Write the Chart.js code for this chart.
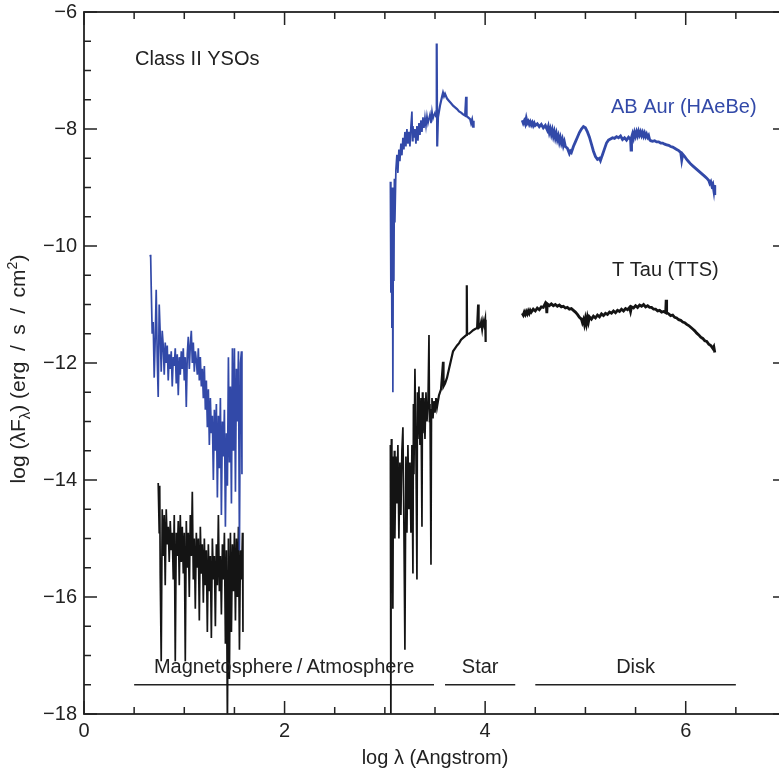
<!DOCTYPE html>
<html><head><meta charset="utf-8">
<script src="https://cdn.jsdelivr.net/npm/chart.js@4.4.0/dist/chart.umd.min.js"></script>
<style>html,body{margin:0;padding:0;background:#fff;overflow:hidden}
#wrap{width:779px;height:773px;overflow:hidden;position:relative}
canvas{display:block}</style></head>
<body><div id="wrap"><canvas id="c" width="790" height="773"></canvas></div>
<script>
// ---- data: log lambda (Angstrom) vs log(lambda F_lambda) ----
const abAurUV = [[0.66,-10.15],[0.665,-10.2],[0.67,-10.68],[0.68,-11.5],[0.69,-11.3],[0.70,-12.25],[0.71,-11.6],[0.72,-10.75],[0.73,-11.9],[0.74,-12.58],[0.75,-11.0],[0.76,-11.5],[0.77,-12.15],[0.78,-11.45],[0.79,-11.7],[0.80,-12.2],[0.81,-11.65],[0.82,-12.0],[0.83,-11.7],[0.84,-12.3],[0.85,-11.85],[0.86,-12.1],[0.87,-11.8],[0.88,-12.4],[0.89,-11.9],[0.90,-12.05],[0.91,-11.75],[0.92,-12.35],[0.93,-11.85],[0.94,-12.55],[0.95,-11.9],[0.96,-12.2],[0.97,-11.8],[0.98,-12.1],[0.99,-11.75],[1.00,-12.3],[1.01,-11.9],[1.02,-12.75],[1.03,-11.85],[1.04,-11.55],[1.05,-12.1],[1.06,-11.7],[1.07,-11.45],[1.08,-12.0],[1.09,-11.65],[1.10,-12.15],[1.11,-11.8],[1.12,-11.95],[1.13,-12.2],[1.14,-11.75],[1.15,-12.3],[1.16,-11.9],[1.17,-12.4],[1.18,-12.1],[1.19,-12.6],[1.20,-12.05],[1.21,-12.8],[1.22,-12.3],[1.23,-13.1],[1.24,-12.45],[1.25,-13.4],[1.26,-12.6],[1.27,-13.2],[1.28,-12.9],[1.29,-14.0],[1.30,-12.8],[1.31,-13.5],[1.32,-12.7],[1.33,-14.3],[1.34,-12.9],[1.35,-13.8],[1.36,-12.6],[1.37,-14.6],[1.38,-13.0],[1.39,-13.6],[1.40,-12.8],[1.41,-14.8],[1.42,-13.2],[1.43,-14.1],[1.44,-11.9],[1.45,-13.7],[1.46,-12.4],[1.47,-14.4],[1.48,-11.75],[1.49,-13.5],[1.50,-11.75],[1.51,-14.2],[1.52,-12.1],[1.53,-13.0],[1.54,-11.8],[1.55,-15.2],[1.56,-12.0],[1.57,-11.8],[1.575,-13.9]];
const abAurOpt = [[3.055,-8.9],[3.06,-10.8],[3.065,-9.1],[3.07,-11.4],[3.075,-9.0],[3.08,-12.5],[3.085,-9.3],[3.09,-10.6],[3.095,-8.85],[3.10,-9.6],[3.11,-8.7],[3.12,-8.44],[3.13,-8.75],[3.14,-8.35],[3.15,-8.55],[3.16,-8.25],[3.17,-8.45],[3.18,-8.15],[3.19,-8.35],[3.20,-8.05],[3.21,-8.3],[3.22,-8.0],[3.23,-8.25],[3.24,-8.05],[3.25,-8.3],[3.26,-7.95],[3.27,-7.7],[3.275,-8.2],[3.28,-7.95],[3.29,-8.15],[3.30,-8.0],[3.31,-8.25],[3.32,-7.95],[3.33,-8.2],[3.34,-7.9],[3.35,-8.1],[3.36,-7.85],[3.37,-8.05],[3.38,-7.8],[3.39,-7.98],[3.40,-7.8],[3.41,-7.95],[3.42,-7.78],[3.43,-7.9],[3.44,-7.82],[3.45,-7.75],[3.46,-7.9],[3.47,-7.7],[3.48,-7.82],[3.49,-7.76],[3.50,-7.72],[3.51,-7.8],[3.517,-6.54],[3.522,-8.3],[3.53,-7.8],[3.55,-7.6],[3.57,-7.45],[3.58,-7.38],[3.59,-7.44],[3.60,-7.4],[3.62,-7.48],[3.64,-7.52],[3.66,-7.56],[3.68,-7.6],[3.70,-7.63],[3.72,-7.66],[3.74,-7.7],[3.76,-7.72],[3.78,-7.75],[3.80,-7.77],[3.81,-7.45],[3.815,-7.78],[3.83,-7.8],[3.85,-7.83],[3.86,-7.9],[3.87,-7.84],[3.88,-7.96],[3.885,-7.86]];
const abAurIR = [[4.37,-7.85],[4.38,-7.9],[4.39,-7.86],[4.40,-7.91],[4.41,-7.82],[4.42,-7.9],[4.43,-7.87],[4.44,-7.92],[4.45,-7.88],[4.46,-7.93],[4.47,-7.89],[4.48,-7.94],[4.49,-7.9],[4.50,-7.94],[4.52,-7.91],[4.54,-7.96],[4.56,-7.92],[4.58,-7.98],[4.60,-7.94],[4.62,-8.02],[4.63,-7.96],[4.64,-8.06],[4.65,-8.0],[4.66,-8.09],[4.67,-8.02],[4.68,-8.12],[4.69,-8.05],[4.70,-8.15],[4.71,-8.08],[4.72,-8.18],[4.73,-8.12],[4.74,-8.22],[4.75,-8.15],[4.76,-8.24],[4.77,-8.18],[4.78,-8.28],[4.79,-8.22],[4.80,-8.3],[4.82,-8.33],[4.84,-8.42],[4.85,-8.38],[4.86,-8.4],[4.88,-8.3],[4.90,-8.22],[4.92,-8.14],[4.94,-8.06],[4.96,-8.0],[4.98,-7.96],[5.00,-7.98],[5.02,-8.05],[5.04,-8.14],[5.06,-8.26],[5.08,-8.38],[5.10,-8.47],[5.12,-8.52],[5.14,-8.5],[5.15,-8.54],[5.16,-8.49],[5.17,-8.44],[5.19,-8.34],[5.21,-8.24],[5.23,-8.19],[5.25,-8.17],[5.27,-8.15],[5.29,-8.16],[5.31,-8.13],[5.33,-8.15],[5.35,-8.12],[5.37,-8.18],[5.39,-8.15],[5.41,-8.19],[5.43,-8.14],[5.45,-8.18],[5.455,-8.36],[5.46,-8.14],[5.47,-8.08],[5.48,-8.15],[5.49,-8.06],[5.50,-8.12],[5.51,-8.05],[5.52,-8.11],[5.53,-8.04],[5.54,-8.1],[5.55,-8.05],[5.56,-8.11],[5.57,-8.06],[5.58,-8.12],[5.59,-8.07],[5.60,-8.13],[5.61,-8.09],[5.62,-8.14],[5.63,-8.11],[5.64,-8.18],[5.65,-8.2],[5.67,-8.21],[5.69,-8.2],[5.71,-8.22],[5.73,-8.22],[5.75,-8.24],[5.77,-8.24],[5.79,-8.26],[5.81,-8.27],[5.83,-8.28],[5.85,-8.3],[5.87,-8.31],[5.89,-8.33],[5.91,-8.35],[5.93,-8.37],[5.95,-8.4],[5.96,-8.53],[5.97,-8.43],[5.99,-8.47],[6.01,-8.52],[6.03,-8.56],[6.05,-8.6],[6.07,-8.63],[6.09,-8.66],[6.11,-8.69],[6.13,-8.72],[6.15,-8.75],[6.17,-8.78],[6.19,-8.81],[6.21,-8.84],[6.23,-8.88],[6.24,-8.93],[6.25,-8.9],[6.26,-8.97],[6.27,-8.94],[6.28,-9.05],[6.285,-8.96],[6.29,-9.13]];

const tTauUV = [[0.74,-14.05],[0.75,-14.9],[0.755,-14.1],[0.76,-15.6],[0.77,-17.1],[0.78,-14.5],[0.79,-15.3],[0.80,-14.6],[0.81,-15.8],[0.82,-14.5],[0.83,-15.1],[0.84,-14.8],[0.85,-15.4],[0.86,-14.7],[0.87,-15.2],[0.88,-14.9],[0.89,-15.7],[0.90,-14.6],[0.91,-17.1],[0.92,-14.9],[0.93,-15.3],[0.94,-14.7],[0.95,-15.8],[0.96,-14.6],[0.97,-15.4],[0.98,-14.8],[0.99,-15.6],[1.00,-14.9],[1.01,-17.1],[1.02,-14.7],[1.03,-15.5],[1.04,-14.9],[1.05,-16.0],[1.06,-14.6],[1.07,-15.3],[1.08,-14.2],[1.09,-15.7],[1.10,-15.0],[1.11,-16.2],[1.12,-14.9],[1.13,-15.5],[1.14,-15.0],[1.15,-16.4],[1.16,-14.8],[1.17,-15.6],[1.18,-15.1],[1.19,-16.1],[1.20,-15.0],[1.21,-15.8],[1.22,-15.2],[1.23,-16.6],[1.24,-15.1],[1.25,-15.9],[1.26,-15.3],[1.27,-16.7],[1.28,-15.0],[1.29,-15.7],[1.30,-15.3],[1.31,-16.5],[1.32,-15.1],[1.33,-15.8],[1.34,-14.6],[1.35,-15.9],[1.36,-15.3],[1.37,-16.3],[1.38,-15.1],[1.39,-15.7],[1.40,-14.9],[1.41,-16.8],[1.42,-15.2],[1.43,-18.2],[1.44,-15.0],[1.45,-17.4],[1.46,-14.9],[1.47,-16.6],[1.48,-15.1],[1.49,-15.9],[1.50,-14.9],[1.51,-16.4],[1.52,-15.0],[1.53,-16.0],[1.54,-14.8],[1.55,-16.9],[1.56,-15.2],[1.57,-15.7],[1.58,-14.9],[1.585,-16.6]];
const tTauOpt = [[3.055,-13.4],[3.06,-18.2],[3.065,-13.3],[3.07,-14.9],[3.075,-13.6],[3.08,-16.2],[3.085,-13.8],[3.09,-14.7],[3.095,-13.5],[3.10,-15.0],[3.11,-13.6],[3.12,-14.4],[3.13,-13.4],[3.14,-15.0],[3.15,-13.7],[3.16,-14.6],[3.17,-13.5],[3.18,-13.1],[3.19,-14.8],[3.20,-16.9],[3.21,-13.6],[3.22,-14.9],[3.23,-13.4],[3.24,-14.5],[3.25,-13.7],[3.26,-14.9],[3.27,-13.4],[3.28,-15.6],[3.285,-12.7],[3.29,-13.9],[3.30,-12.1],[3.31,-13.5],[3.32,-15.7],[3.325,-12.5],[3.33,-13.3],[3.34,-12.4],[3.35,-13.4],[3.36,-12.6],[3.37,-14.8],[3.375,-12.5],[3.38,-13.2],[3.39,-12.6],[3.40,-13.3],[3.41,-12.5],[3.42,-13.0],[3.43,-12.7],[3.44,-11.52],[3.445,-13.0],[3.45,-12.7],[3.46,-15.45],[3.465,-12.8],[3.47,-12.6],[3.48,-12.95],[3.49,-12.65],[3.50,-12.85],[3.51,-12.6],[3.52,-12.75],[3.54,-12.55],[3.56,-12.45],[3.58,-11.98],[3.585,-12.4],[3.60,-12.35],[3.62,-12.25],[3.64,-12.1],[3.66,-11.95],[3.68,-11.8],[3.70,-11.75],[3.72,-11.7],[3.74,-11.66],[3.76,-11.6],[3.78,-11.57],[3.80,-11.54],[3.815,-11.52],[3.817,-10.67],[3.82,-11.5],[3.84,-11.5],[3.86,-11.47],[3.88,-11.44],[3.90,-11.42],[3.92,-11.4],[3.93,-11.0],[3.935,-11.4],[3.95,-11.38],[3.96,-11.3],[3.97,-11.42],[3.98,-11.28],[3.99,-11.35],[4.00,-11.26],[4.005,-11.64]];
const tTauIR = [[4.37,-11.15],[4.38,-11.18],[4.39,-11.13],[4.40,-11.17],[4.41,-11.12],[4.42,-11.16],[4.43,-11.11],[4.44,-11.15],[4.45,-11.1],[4.46,-11.13],[4.48,-11.08],[4.50,-11.11],[4.52,-11.06],[4.54,-11.09],[4.56,-11.04],[4.58,-11.05],[4.60,-10.98],[4.61,-11.02],[4.615,-11.15],[4.62,-10.99],[4.64,-11.02],[4.66,-10.99],[4.68,-11.02],[4.70,-11.0],[4.72,-11.03],[4.74,-11.01],[4.76,-11.04],[4.78,-11.03],[4.80,-11.06],[4.82,-11.05],[4.84,-11.08],[4.86,-11.07],[4.88,-11.1],[4.90,-11.13],[4.92,-11.17],[4.94,-11.22],[4.96,-11.25],[4.97,-11.31],[4.98,-11.26],[4.99,-11.34],[5.00,-11.24],[5.01,-11.33],[5.02,-11.22],[5.03,-11.3],[5.04,-11.21],[5.06,-11.25],[5.08,-11.2],[5.10,-11.23],[5.12,-11.18],[5.14,-11.21],[5.16,-11.16],[5.18,-11.19],[5.20,-11.15],[5.22,-11.17],[5.24,-11.13],[5.26,-11.15],[5.28,-11.11],[5.30,-11.14],[5.32,-11.1],[5.34,-11.12],[5.36,-11.08],[5.38,-11.11],[5.40,-11.07],[5.42,-11.09],[5.44,-11.05],[5.45,-11.12],[5.46,-11.04],[5.48,-11.06],[5.50,-11.02],[5.52,-11.05],[5.54,-11.01],[5.56,-11.03],[5.58,-11.0],[5.60,-11.04],[5.62,-11.02],[5.64,-11.05],[5.66,-11.05],[5.68,-11.08],[5.70,-11.08],[5.72,-11.11],[5.74,-11.1],[5.76,-11.13],[5.78,-11.12],[5.80,-11.14],[5.805,-10.92],[5.81,-11.14],[5.83,-11.16],[5.85,-11.19],[5.87,-11.18],[5.89,-11.22],[5.91,-11.23],[5.93,-11.26],[5.95,-11.27],[5.97,-11.3],[5.99,-11.31],[6.01,-11.34],[6.03,-11.36],[6.05,-11.39],[6.07,-11.42],[6.09,-11.45],[6.11,-11.49],[6.13,-11.52],[6.15,-11.56],[6.17,-11.58],[6.19,-11.62],[6.21,-11.63],[6.23,-11.68],[6.25,-11.7],[6.27,-11.75],[6.28,-11.72],[6.29,-11.82]];

const seriesNames = ['AB Aur (HAeBe)', 'T Tau (TTS)'];
const regionNames = ['Magnetosphere\u2009/\u2009Atmosphere', 'Star', 'Disk'];
const regionStart = [0.5, 3.6, 4.5];
const regionEnd = [3.49, 4.3, 6.5];
const regionLevel = -17.5;
const xTicks = [0, 2, 4, 6];
const yTicks = [-18, -16, -14, -12, -10, -8, -6];

// ---- build ----
const BLUE = '#3249a8', BLACK = '#141414', TXT = '#222';
const FONT = '"Liberation Sans", Arial, Helvetica, sans-serif';
const FS = 20;
function joinSegs(...segs) {
  const out = [];
  segs.forEach((s, i) => {
    if (i > 0) out.push({x: (segs[i-1][segs[i-1].length-1][0] + s[0][0]) / 2, y: null});
    s.forEach(p => out.push({x: p[0], y: p[1]}));
  });
  return out;
}
const widthBySegment = c => {
  const x = c.p0.parsed.x;
  if (x > 4.3) return 2.8;
  if (x > 3.5 && x < 4.1) return 2.2;
  return 1.7;
};
const datasets = [
  {label: seriesNames[0], data: joinSegs(abAurUV, abAurOpt, abAurIR), borderColor: BLUE, borderWidth: 1.7, segment: {borderWidth: widthBySegment}},
  {label: seriesNames[1], data: joinSegs(tTauUV, tTauOpt, tTauIR), borderColor: BLACK, borderWidth: 1.7, segment: {borderWidth: widthBySegment}}
];
regionNames.forEach((n, i) => datasets.push({label: n, data: [{x: regionStart[i], y: regionLevel}, {x: regionEnd[i], y: regionLevel}], borderColor: '#222', borderWidth: 1.4}));
datasets.forEach(d => { d.pointRadius = 0; d.spanGaps = false; d.tension = 0; d.fill = false; });

const minus = v => v < 0 ? '\u2212' + Math.abs(v) : String(v);

const decor = {
  id: 'decor',
  afterDraw(chart) {
    const ctx = chart.ctx, a = chart.chartArea, xs = chart.scales.x, ys = chart.scales.y;
    ctx.save();
    ctx.strokeStyle = TXT;
    ctx.lineWidth = 1.5;
    ctx.beginPath();
    for (let v = 0; v <= 7.0001; v += 0.5) {
      const px = xs.getPixelForValue(v);
      const L = xTicks.includes(v) ? 13 : 7;
      ctx.moveTo(px, a.bottom); ctx.lineTo(px, a.bottom - L);
      ctx.moveTo(px, a.top); ctx.lineTo(px, a.top + L);
    }
    for (let v = -18; v <= -5.9999; v += 0.5) {
      const py = ys.getPixelForValue(v);
      const L = yTicks.includes(v) ? 13 : 7;
      ctx.moveTo(a.left, py); ctx.lineTo(a.left + L, py);
      ctx.moveTo(a.right, py); ctx.lineTo(a.right - L, py);
    }
    ctx.stroke();
    ctx.lineWidth = 1.8;
    ctx.strokeRect(a.left, a.top, a.right - a.left, a.bottom - a.top);
    ctx.font = FS + 'px ' + FONT;
    ctx.textBaseline = 'middle';
    ctx.fillStyle = TXT; ctx.textAlign = 'left';
    ctx.fillText('Class II YSOs', xs.getPixelForValue(0.509), ys.getPixelForValue(-6.82));
    ctx.fillStyle = BLUE;
    ctx.fillText(seriesNames[0], xs.getPixelForValue(5.255), ys.getPixelForValue(-7.64));
    ctx.fillStyle = TXT;
    ctx.fillText(seriesNames[1], xs.getPixelForValue(5.265), ys.getPixelForValue(-10.41));
    ctx.textAlign = 'center';
    regionNames.forEach((n, i) => {
      ctx.fillText(n, xs.getPixelForValue((regionStart[i] + regionEnd[i]) / 2), ys.getPixelForValue(-17.21));
    });
    ctx.fillText('log \u03bb (Angstrom)', (a.left + a.right) / 2, 758);
    // y title with sub/superscript
    const YF = 21;
    ctx.translate(18, 369);
    ctx.rotate(-Math.PI / 2);
    const parts = [['log (\u03bbF', YF, 0], ['\u03bb', 15, 5], [') (erg\u2002/\u2002s\u2002/\u2002cm', YF, 0], ['2', 14, -8], [')', YF, 0]];
    let total = 0;
    parts.forEach(p => { ctx.font = p[1] + 'px ' + FONT; total += ctx.measureText(p[0]).width; });
    let x = -total / 2;
    ctx.textAlign = 'left'; ctx.textBaseline = 'alphabetic';
    parts.forEach(p => { ctx.font = p[1] + 'px ' + FONT; ctx.fillText(p[0], x, 7 + p[2]); x += ctx.measureText(p[0]).width; });
    ctx.restore();
  }
};

new Chart(document.getElementById('c'), {
  type: 'line',
  data: {datasets},
  options: {
    responsive: false, animation: false, devicePixelRatio: 1,
    layout: {padding: {top: 12, right: 4, left: 0, bottom: 0}},
    plugins: {legend: {display: false}, tooltip: {enabled: false}},
    scales: {
      x: {
        type: 'linear', min: 0, max: 7,
        grid: {display: false, drawTicks: false}, border: {display: false},
        ticks: {stepSize: 2, includeBounds: false, padding: 5, color: TXT, font: {size: FS, family: FONT}, maxRotation: 0, callback: v => xTicks.includes(v) ? minus(v) : ''},
        afterFit: s => { s.height = 59; s.paddingLeft = 0; s.paddingRight = 0; }
      },
      y: {
        type: 'linear', min: -18, max: -6,
        grid: {display: false, drawTicks: false}, border: {display: false},
        ticks: {stepSize: 2, includeBounds: false, padding: 7, color: TXT, font: {size: FS, family: FONT}, callback: v => yTicks.includes(v) ? minus(v) : ''},
        afterFit: s => { s.width = 84; s.paddingTop = 0; s.paddingBottom = 0; }
      }
    }
  },
  plugins: [decor]
});
</script></body></html>
